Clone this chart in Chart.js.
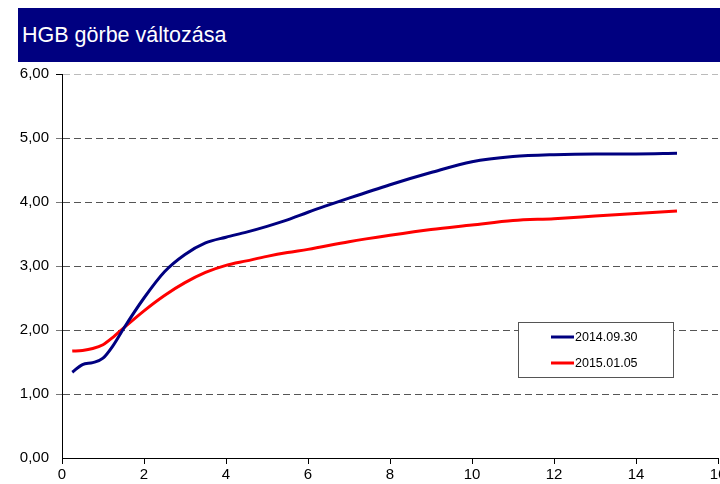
<!DOCTYPE html>
<html>
<head>
<meta charset="utf-8">
<script src="https://cdn.jsdelivr.net/npm/chart.js@4"></script>
<style>
  html, body { margin: 0; padding: 0; background: #fff; overflow: hidden; width: 720px; height: 484px; }
  #wrap { position: relative; width: 740px; height: 484px; }
  #title { position: absolute; left: 18px; top: 8px; width: 720px; height: 54px; background: #000080;
           color: #fff; font-family: "Liberation Sans", Arial, sans-serif; font-size: 21.5px;
           line-height: 54px; padding-left: 4px; box-sizing: border-box; white-space: nowrap; }
  canvas { position: absolute; left: 0; top: 0; }
</style>
</head>
<body>
<div id="wrap">
  <canvas id="c" width="740" height="484"></canvas>
  <div id="title">HGB görbe változása</div>
</div>
<script>
const chartTitle = "HGB görbe változása";
const maturities = [0.25, 0.5, 0.75, 1, 1.25, 1.5, 2, 2.5, 3, 3.5, 4, 4.5, 5, 5.5, 6, 7, 8, 9, 10, 11, 12, 13, 14, 15];
const series1Label = "2014.09.30";
const series1 = [1.34, 1.46, 1.49, 1.56, 1.76, 2.02, 2.50, 2.91, 3.18, 3.36, 3.45, 3.53, 3.62, 3.72, 3.84, 4.06, 4.27, 4.46, 4.63, 4.71, 4.74, 4.75, 4.75, 4.76];
const series2Label = "2015.01.05";
const series2 = [1.67, 1.68, 1.71, 1.77, 1.89, 2.03, 2.30, 2.54, 2.74, 2.90, 3.01, 3.08, 3.15, 3.21, 3.26, 3.38, 3.48, 3.57, 3.64, 3.71, 3.74, 3.78, 3.82, 3.86];
const xTicks = [0, 2, 4, 6, 8, 10, 12, 14, 16];
const yTicks = [0, 1, 2, 3, 4, 5, 6];

const toPoints = (xs, ys) => xs.map((x, i) => ({ x: x, y: ys[i] }));
const FONT = "'Liberation Sans', Arial, sans-serif";

const boxLegend = {
  id: 'boxLegend',
  afterDraw(chart) {
    const ctx = chart.ctx;
    ctx.save();
    ctx.fillStyle = '#fff';
    ctx.fillRect(518.5, 322.5, 155, 55);
    ctx.strokeStyle = '#555';
    ctx.lineWidth = 1;
    ctx.strokeRect(518.5, 322.5, 155, 55);
    const rows = [337, 363];
    chart.data.datasets.forEach((ds, i) => {
      const y = rows[i];
      ctx.strokeStyle = ds.borderColor;
      ctx.lineWidth = 3;
      ctx.beginPath();
      ctx.moveTo(551, y);
      ctx.lineTo(574, y);
      ctx.stroke();
      ctx.fillStyle = '#000';
      ctx.font = '12.5px ' + FONT;
      ctx.textBaseline = 'middle';
      ctx.textAlign = 'left';
      ctx.fillText(ds.label, 575, y + 0.5);
    });
    ctx.restore();
  }
};

new Chart(document.getElementById('c'), {
  type: 'line',
  data: {
    datasets: [
      { label: series1Label, data: toPoints(maturities, series1), borderColor: '#000080', borderWidth: 3,
        pointRadius: 0, fill: false, cubicInterpolationMode: 'monotone' },
      { label: series2Label, data: toPoints(maturities, series2), borderColor: '#ff0000', borderWidth: 3,
        pointRadius: 0, fill: false, cubicInterpolationMode: 'monotone' }
    ]
  },
  options: {
    responsive: false,
    animation: false,
    devicePixelRatio: 1,
    layout: { padding: { top: 74, right: 22, bottom: 0, left: 0 } },
    plugins: { legend: { display: false }, title: { display: false }, tooltip: { enabled: false } },
    scales: {
      x: {
        type: 'linear', min: 0, max: 16,
        afterBuildTicks(s) { s.ticks = xTicks.map(v => ({ value: v })); },
        afterFit(s) { s.height = 26; },
        border: { color: '#000', width: 1 },
        grid: { drawOnChartArea: false, tickLength: 6, tickColor: '#000' },
        ticks: { color: '#000', font: { family: FONT, size: 15 }, padding: 2, maxRotation: 0,
                 callback: v => String(v) }
      },
      y: {
        min: 0, max: 6,
        afterBuildTicks(s) { s.ticks = yTicks.map(v => ({ value: v })); },
        afterFit(s) { s.width = 62; },
        border: { color: '#000', width: 1, dash: [7, 4] },
        grid: {
          tickLength: 6,
          color: c => (c.tick && c.tick.value === 6) ? '#bbbbbb' : '#555555',
          tickColor: c => (c.tick && c.tick.value === 6) ? '#000' : '#777777',
          lineWidth: c => (c.tick && c.tick.value === 0) ? 0 : 1
        },
        ticks: { color: '#000', font: { family: FONT, size: 15 }, padding: 7,
                 callback: v => Number(v).toFixed(2).replace('.', ',') }
      }
    }
  },
  plugins: [boxLegend]
});
</script>
</body>
</html>
